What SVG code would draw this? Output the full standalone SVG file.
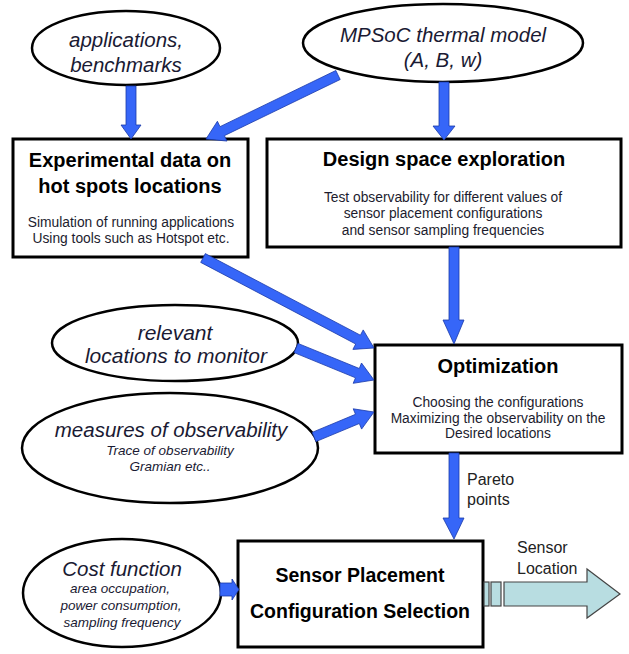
<svg xmlns="http://www.w3.org/2000/svg" width="629" height="654" viewBox="0 0 629 654">
<style>
.ell{fill:#fff;stroke:#000;stroke-width:2.5}
.box{fill:#fff;stroke:#000;stroke-width:3}
.arr{fill:#3666f8;stroke:#1b3aa8;stroke-width:0.8;stroke-linejoin:miter}
.it{font-family:"Liberation Sans",Arial,sans-serif;font-style:italic;fill:#1a1a33;text-anchor:middle}
.big{font-size:20.5px}
.sm{font-size:13.5px}
.ttl{font-family:"Liberation Sans",Arial,sans-serif;font-weight:bold;font-size:20px;fill:#000;text-anchor:middle}
.sub{font-family:"Liberation Sans",Arial,sans-serif;font-size:13.8px;fill:#1c1c2e;text-anchor:middle}
.lbl{font-family:"Liberation Sans",Arial,sans-serif;font-size:16px;fill:#222}
</style>
<rect width="629" height="654" fill="#fff"/>
<g id="apps">
<ellipse class="ell" cx="126" cy="48" rx="94" ry="37"/>
<text class="it big" x="126" y="47">applications,</text>
<text class="it big" x="126" y="72">benchmarks</text>
</g>
<g id="mpsoc">
<ellipse class="ell" cx="443" cy="43" rx="140" ry="39"/>
<text class="it big" x="443" y="42">MPSoC thermal model</text>
<text class="it big" x="443" y="67">(A, B, w)</text>
</g>
<g id="experimental">
<rect class="box" x="13" y="139" width="235" height="118"/>
<text class="ttl" x="130" y="167">Experimental data on</text>
<text class="ttl" x="130" y="193">hot spots locations</text>
<text class="sub" x="131" y="227">Simulation of running applications</text>
<text class="sub" x="131" y="243">Using tools such as Hotspot etc.</text>
</g>
<g id="dse">
<rect class="box" x="267" y="139" width="354" height="108"/>
<text class="ttl" x="444" y="166">Design space exploration</text>
<text class="sub" x="443" y="202">Test observability for different values of</text>
<text class="sub" x="443" y="218">sensor placement configurations</text>
<text class="sub" x="443" y="235">and sensor sampling frequencies</text>
</g>
<g id="relevant">
<ellipse class="ell" cx="175" cy="343" rx="123" ry="38"/>
<text class="it" style="font-size:21px" x="175" y="340">relevant</text>
<text class="it" style="font-size:21px" x="176" y="363">locations to monitor</text>
</g>
<g id="measures">
<ellipse class="ell" cx="170" cy="448" rx="148" ry="55"/>
<text class="it big" x="171" y="437">measures of observability</text>
<text class="it sm" x="170" y="455">Trace of observability</text>
<text class="it sm" x="170" y="471">Gramian etc..</text>
</g>
<g id="optimization">
<rect class="box" x="375" y="345" width="247" height="108"/>
<text class="ttl" x="498" y="373">Optimization</text>
<text class="sub" x="498" y="407">Choosing the configurations</text>
<text class="sub" x="498" y="423">Maximizing the observability on the</text>
<text class="sub" x="498" y="438">Desired locations</text>
</g>
<g id="cost">
<ellipse class="ell" cx="122" cy="593" rx="99" ry="54"/>
<text class="it big" x="122" y="576">Cost function</text>
<text class="it sm" x="120" y="593">area occupation,</text>
<text class="it sm" x="121" y="610">power consumption,</text>
<text class="it sm" x="122" y="627">sampling frequency</text>
</g>
<g id="selection">
<rect class="box" x="238" y="541" width="245" height="106"/>
<text class="ttl" style="font-size:19.5px" x="360" y="582">Sensor Placement</text>
<text class="ttl" style="font-size:19.5px" x="360" y="618">Configuration Selection</text>
</g>
<g id="sensor-location">
<rect x="484" y="582" width="5" height="24" fill="#b8dde1" stroke="#444" stroke-width="1.2"/>
<rect x="491" y="582" width="10" height="24" fill="#b8dde1" stroke="#444" stroke-width="1.2"/>
<polygon points="504,582 587,582 587,569 620,594 587,618 587,606 504,606" fill="#b8dde1" stroke="#444" stroke-width="1.2"/>
<text class="lbl" x="517" y="553">Sensor</text>
<text class="lbl" x="517" y="574">Location</text>
</g>
<g id="connectors">
<polygon class="arr" points="126,86 136,86 136,125 141,125 131,139 121,125 126,125"/>
<polygon class="arr" points="439,82 449,82 449,126 455,126 444,140 433,126 439,126"/>
<polygon class="arr" points="449,247 459,247 459,320 464,320 454,344 443,320 449,320"/>
<polygon class="arr" points="449,453 459,453 459,518 464,518 454,539 443,518 449,518"/>
<polygon class="arr" points="340.2,79.5 224.4,135.65 227,141.05 206,139 217.4,121.25 220,126.65 335.8,70.5"/>
<polygon class="arr" points="205.3,253.6 360.4,335.2 363.2,329.9 374,348 352.9,349.4 355.7,344 200.7,262.4"/>
<polygon class="arr" points="297.9,343.4 359.3,368.5 361.5,363 374,380 353.2,383.3 355.5,377.8 294.1,352.6"/>
<polygon class="arr" points="312.1,432.4 355.5,414.3 353.2,408.8 374,412 361.6,429.1 359.3,423.5 315.9,441.6"/>
<polygon class="arr" points="220,583 232,583 232,579 239,589.5 232,600 232,596 220,596"/>
<text class="lbl" x="467" y="485">Pareto</text>
<text class="lbl" x="467" y="505">points</text>
</g>
</svg>
